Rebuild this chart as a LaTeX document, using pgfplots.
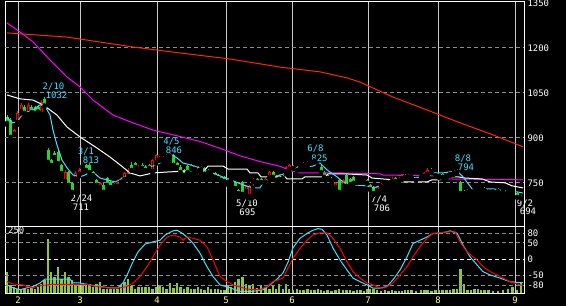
\documentclass[border=0pt]{standalone}
\usepackage{pgfplots}
\usepackage{pgfplotstable}
\usepackage{fontspec}
\pgfplotsset{compat=1.18}
\newfontfamily\pix{DejaVu Sans Mono}
\definecolor{cgreen}{RGB}{40,215,40}
\definecolor{cred}{RGB}{255,0,0}
\definecolor{cmared}{RGB}{255,40,0}
\definecolor{ccyan}{RGB}{64,224,255}
\definecolor{cmag}{RGB}{255,0,255}
\definecolor{cvol}{RGB}{140,200,60}
\definecolor{cyel}{RGB}{255,255,150}
\definecolor{gridgray}{RGB}{140,140,140}
\definecolor{vgray}{RGB}{200,200,200}

% up (red, hollow) candles: x open high low close volume
\pgfplotstableread{
x o h l c v
14 907 927 890 923 22
17.5 947 985 940 980 16
21 983 1012 978 1007 10
28 973 1012 968 1007 16
41 975 1022 970 1015 35
65 750 790 745 783 78
75.5 757 785 750 780 29
79 773 795 768 790 29
82.5 800 813 795 808 29
100 730 750 725 747 41
114 733 745 725 740 16
117.5 733 750 728 747 16
121 747 767 743 763 29
124.5 757 783 753 780 41
128 767 795 763 790 54
138.5 790 805 787 800 22
152.5 783 827 780 823 16
156 813 843 810 840 22
159.5 823 835 820 830 29
163 823 837 820 833 22
166.5 830 843 827 840 16
170 833 846 830 843 38
194.5 790 807 787 803 16
198 783 803 767 800 22
201 790 803 787 800 16
211 780 787 767 783 16
228 747 763 740 760 29
231 753 760 750 757 22
246 717 740 713 737 35
249.5 700 740 695 737 29
253 750 763 730 760 35
265.5 747 763 743 760 22
269.5 763 787 760 783 16
279 757 777 753 773 35
286 783 803 780 800 35
289 790 810 787 807 16
300 803 812 800 807 10
303.5 803 815 800 810 13
307.5 807 820 803 817 16
311 815 823 812 820 13
314.5 818 825 815 822 10
335.5 730 750 725 747 10
343 733 760 730 757 10
360.5 750 760 747 757 10
364 753 760 750 757 7
377 717 737 713 733 10
381 733 747 730 743 7
385 743 753 740 750 10
388.5 743 755 740 750 7
392 750 765 747 760 10
399 753 767 750 763 7
402 760 778 757 775 7
411.5 763 773 760 770 13
421 763 773 760 770 10
424.5 767 783 763 780 10
427.5 773 795 770 790 10
439 767 777 763 773 10
446.5 767 780 763 777 10
450 773 783 770 780 13
453.5 777 787 773 783 16
457 780 794 777 790 16
467.5 713 725 710 720 13
471 715 723 712 720 13
474.5 720 730 717 727 16
478 723 730 720 727 16
503 717 722 715 720 13
508 717 722 715 720 16
512.5 715 720 712 718 22
}\upc

% down (green, filled) candles
\pgfplotstableread{
x o h l c v
7 967 972 940 947 78
10.5 957 962 893 900 29
24.5 1000 1005 975 980 16
31.5 1000 1005 978 983 22
35 1000 1004 976 980 16
38 1000 1005 980 985 22
44.5 1028 1032 1000 1005 47
48 857 862 812 817 200
51 823 828 800 807 78
54.5 847 852 828 833 60
58 850 856 808 813 97
61.5 807 810 775 780 54
68.5 783 787 735 740 60
72 747 750 711 717 50
86 807 810 787 790 29
89.5 807 812 780 783 35
93 783 787 770 773 24
96.5 757 760 735 740 35
103.5 740 745 712 717 16
107 763 767 737 740 16
110.5 750 753 730 733 16
131.5 807 815 787 790 25
135 813 818 797 800 16
142 807 812 793 797 24
145.5 800 805 787 790 22
149 807 810 793 797 24
173.5 840 844 803 807 20
177 813 817 797 800 38
180.5 800 805 780 783 24
184 790 793 770 773 16
187.5 803 806 780 783 22
191 807 810 793 797 16
204.5 797 800 773 777 12
208 790 793 780 783 22
215 780 783 763 767 16
218 773 777 760 763 16
221 767 770 753 757 12
224.5 767 770 750 753 12
235 750 753 727 730 41
238.5 723 727 707 713 54
242.5 750 753 707 710 60
257 760 763 747 750 18
261 760 763 747 750 29
273 783 787 763 767 29
276 770 773 753 757 16
283 770 773 760 763 16
293 803 807 793 797 10
297 800 803 787 790 16
318 810 813 800 805 16
321 800 805 780 783 13
324 783 787 763 767 7
327.5 773 777 760 763 10
331.5 760 765 750 755 7
339 757 760 713 717 16
346.5 773 777 733 737 13
350 760 763 740 743 10
353.5 767 770 743 747 7
357 753 757 747 750 10
367 757 760 743 747 16
370 740 743 723 727 16
373.5 733 737 706 713 16
395.5 763 767 750 753 7
405 773 777 763 767 10
408 772 775 765 768 13
416 763 767 753 757 7
431.5 790 795 780 785 7
435.5 780 783 770 773 13
442.5 777 780 763 767 10
460.5 750 753 710 713 90
464 720 723 710 713 35
481 728 731 722 724 10
484.5 730 733 720 723 13
488.5 725 728 715 718 13
493 722 724 715 718 7
498 727 730 717 720 7
517 713 716 697 700 10
521 703 706 694 698 40
}\dnc

\pgfplotsset{
  base/.style={scale only axis, width=519bp, xmin=5, xmax=524, anchor=north west,
    major tick length=0pt,
    tick label style={font=\pix\fontsize{9}{9}\selectfont},
    yticklabel pos=right},
}
\tikzset{lab/.style={font=\pix\fontsize{9}{9}\selectfont, anchor=base, inner sep=0pt}}

\begin{document}
\begin{tikzpicture}
\fill[black] (0bp,0bp) rectangle (566bp,-306bp);

% ---------------- main price panel ----------------
\begin{axis}[base, at={(5bp,-2bp)}, height=224bp, ymin=603, ymax=1350,
  clip=false,
  axis line style={white, line width=1bp},
  xtick={18,80,157,226,292,368,438,515}, xticklabels={},
  xmajorgrids, major grid style={vgray, line width=0.8bp},
  ytick={1350}, yticklabels={1350},
  extra y ticks={750,900,1050,1200}, extra y tick labels={750,900,1050,1200},
  extra y tick style={ymajorgrids=true, major grid style={gridgray, line width=0.8bp, dash pattern=on 4bp off 3bp}},
  yticklabel style={white, yshift=-1.5bp},
]
% green candles
\addplot[only marks, mark=none, forget plot,
  error bars/.cd, y dir=plus, y explicit, error mark=none,
  error bar style={cgreen, line width=1bp}]
  table[x=x, y=l, y error plus expr=\thisrow{h}-\thisrow{l}]{\dnc};
\addplot[only marks, mark=none, forget plot,
  error bars/.cd, y dir=plus, y explicit, error mark=none,
  error bar style={cgreen, line width=3bp}]
  table[x=x, y=c, y error plus expr=\thisrow{o}-\thisrow{c}]{\dnc};
% red hollow candles
\addplot[only marks, mark=none, forget plot,
  error bars/.cd, y dir=plus, y explicit, error mark=none,
  error bar style={cred, line width=1bp}]
  table[x=x, y=l, y error plus expr=\thisrow{h}-\thisrow{l}]{\upc};
\addplot[only marks, mark=none, forget plot,
  error bars/.cd, y dir=plus, y explicit, error mark=none,
  error bar style={cred, line width=3bp}]
  table[x=x, y=o, y error plus expr=\thisrow{c}-\thisrow{o}]{\upc};
\addplot[only marks, mark=none, forget plot,
  error bars/.cd, y dir=plus, y explicit, error mark=none,
  error bar style={black, line width=1bp}]
  table[x=x, y expr=\thisrow{o}+3.3, y error plus expr={max(\thisrow{c}-\thisrow{o}-6.6,0)}]{\upc};

% moving averages
\addplot[cmared, line width=1bp] coordinates {(7,1247)(67,1233)(133,1200)(180,1180)(230,1160)(280,1133)(320,1117)(347,1097)(360,1083)(393,1033)(427,990)(460,947)(493,907)(523,867)};
\addplot[cmag, line width=1bp] coordinates {(7,1280)(20,1250)(33,1217)(50,1157)(67,1100)(80,1067)(93,1023)(113,973)(133,947)(153,923)(173,907)(200,885)(220,862)(240,837)(260,818)(280,802)(293,785)(300,780)(340,780)(380,777)(383,773)(443,770)(446,760)(523,757)};
\addplot[white, line width=1bp] coordinates {(7,1040)(20,1027)(33,1023)(43,1007)(57,973)(67,933)(80,900)(97,863)(110,833)(120,807)(130,780)(140,770)(153,780)(167,783)(190,787)(205,790)(208,803)(223,803)(228,793)(247,793)(250,780)(258,780)(261,767)(285,767)(287,760)(302,760)(305,767)(325,767)(328,777)(345,777)(367,773)(372,763)(393,757)(400,750)(427,750)(432,757)(440,757)(445,767)(458,767)(465,763)(482,760)(490,750)(505,747)(512,737)(523,730)};
\addplot[ccyan, line width=1bp] coordinates {(7,967)(12,947)(17,950)(22,973)(27,983)(33,990)(40,1007)(45,1003)(50,973)(53,923)(57,873)(62,823)(67,797)(73,773)(80,767)(85,773)(90,783)(95,777)(100,763)(107,757)(115,750)(120,757)(127,773)(133,790)(140,797)(147,800)(153,803)(160,813)(168,833)(172,840)(177,830)(183,813)(190,807)(200,797)(210,783)(220,770)(232,755)(243,740)(253,730)(260,730)(263,747)(270,763)(280,773)(287,780)(295,795)(305,800)(313,803)(320,813)(327,790)(337,767)(343,750)(353,740)(367,737)(373,730)(380,737)(393,747)(400,757)(407,763)(427,767)(433,780)(443,780)(457,787)(463,767)(473,723)(483,727)(493,727)(505,720)(517,717)(523,713)};

% annotations
\node[lab, ccyan] at (axis cs:53.5,1056.7) {2/10};
\node[lab, ccyan] at (axis cs:56.5,1026.7) {1032};
\node[lab, ccyan] at (axis cs:86,840) {3/1};
\node[lab, ccyan] at (axis cs:91,810) {813};
\node[lab, white] at (axis cs:81.5,683.4) {2/24};
\node[lab, white] at (axis cs:81,653.4) {711};
\node[lab, ccyan] at (axis cs:171.5,873.4) {4/5};
\node[lab, ccyan] at (axis cs:174,843.4) {846};
\node[lab, white] at (axis cs:247,666.8) {5/10};
\node[lab, white] at (axis cs:247.5,636.8) {695};
\node[lab, ccyan] at (axis cs:315.5,850) {6/8};
\node[lab, ccyan] at (axis cs:319.5,816.7) {825};
\node[lab, white] at (axis cs:379,680) {7/4};
\node[lab, white] at (axis cs:382,650) {706};
\node[lab, ccyan] at (axis cs:463,816.7) {8/8};
\node[lab, ccyan] at (axis cs:466,786.8) {794};
\node[lab, white] at (axis cs:525,666.8) {9/2};
\node[lab, white] at (axis cs:528,640) {694};
\end{axis}

% ---------------- volume ----------------
\begin{axis}[base, at={(5bp,-226bp)}, height=67bp, ymin=0, ymax=250,
  axis line style={white, line width=1bp},
  xtick={18,80,157,226,292,368,438,515}, xticklabels={2,3,4,5,6,7,8,9},
  xticklabel style={cyel},
  xmajorgrids, major grid style={vgray, line width=0.8bp},
  ytick=\empty,
]
\addplot[ycomb, cvol, line width=2.6bp] table[x=x, y=v]{\upc};
\addplot[ycomb, cvol, line width=2.6bp] table[x=x, y=v]{\dnc};
\node[white, font=\pix\fontsize{9}{9}\selectfont, anchor=north west, inner sep=0pt] at (axis cs:8,247) {250};
\end{axis}

% ---------------- oscillator ----------------
\begin{axis}[base, at={(5bp,-226bp)}, height=67bp, ymin=-105, ymax=102,
  axis line style={draw=none}, xtick=\empty,
  ytick={0}, yticklabels={0},
  ymajorgrids, major grid style={white, line width=0.8bp, dash pattern=on 4bp off 3bp},
  extra y ticks={-80,-50,50,80}, extra y tick labels={-80,-50,50,80},
  extra y tick style={ymajorgrids=true, major grid style={gridgray, line width=0.8bp, dash pattern=on 4bp off 3bp}},
  yticklabel style={white},
]
\addplot[ccyan, line width=1bp] coordinates {(7,-80)(13,-89)(20,-95)(27,-89)(33,-85)(40,-74)(45,-62)(53,-62)(70,-62)(73,-74)(80,-74)(90,-80)(100,-85)(110,-89)(118,-89)(123,-74)(128,-43)(133,-8)(138,22)(145,46)(153,53)(160,58)(165,74)(173,87)(177,89)(182,80)(187,68)(193,49)(200,18)(207,-24)(213,-54)(220,-80)(230,-89)(240,-100)(253,-100)(263,-95)(270,-80)(277,-62)(283,-43)(288,-10)(293,35)(300,64)(307,79)(313,89)(318,94)(322,92)(327,74)(333,34)(340,-3)(347,-34)(353,-59)(360,-70)(367,-80)(373,-90)(380,-90)(387,-85)(393,-64)(400,-34)(407,7)(413,48)(420,58)(427,68)(433,79)(440,80)(447,84)(450,87)(457,80)(463,43)(470,7)(477,-18)(483,-39)(490,-49)(500,-59)(510,-70)(520,-73)(523,-73)};
\addplot[cred, line width=1bp] coordinates {(7,-70)(13,-77)(23,-80)(27,-85)(33,-89)(40,-82)(47,-80)(53,-78)(87,-78)(93,-83)(107,-89)(120,-89)(127,-85)(133,-74)(140,-54)(147,-24)(153,7)(160,43)(167,68)(173,74)(180,68)(183,58)(187,68)(193,64)(200,58)(207,38)(213,-3)(220,-54)(227,-70)(233,-80)(247,-93)(260,-95)(267,-85)(273,-70)(283,-59)(287,-34)(293,2)(300,33)(307,58)(313,74)(320,81)(327,81)(333,64)(340,33)(347,-8)(353,-39)(360,-59)(367,-74)(373,-80)(380,-89)(385,-89)(393,-74)(400,-49)(407,-24)(413,7)(420,38)(427,64)(433,79)(440,81)(447,84)(455,84)(460,53)(467,22)(477,-3)(483,-24)(490,-39)(500,-54)(510,-70)(520,-80)(523,-81)};
\end{axis}

\pgfresetboundingbox
\path[use as bounding box] (0bp,0bp) rectangle (566bp,-306bp);
\end{tikzpicture}
\end{document}
